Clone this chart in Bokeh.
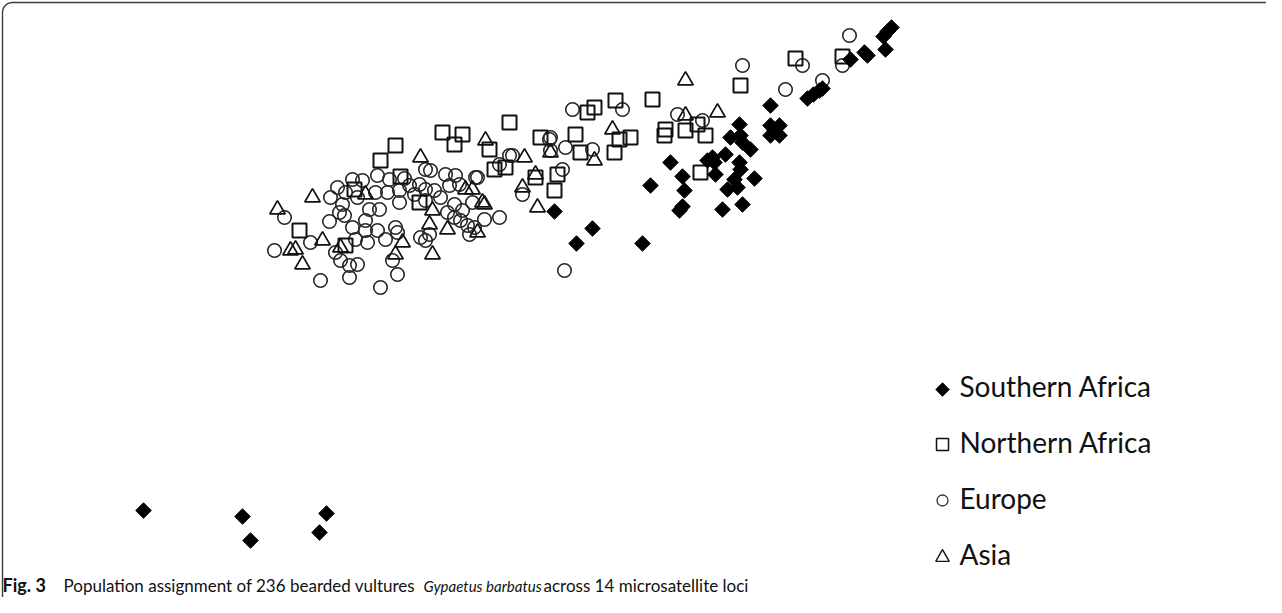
import numpy as np
from bokeh.plotting import figure
from bokeh.models import Range1d
from bokeh.core.properties import value
from bokeh.embed import file_html
from bokeh.resources import INLINE

# ---- data (coordinates) ----
sa_x = [151, 250, 258, 334, 327, 562, 584, 600, 650, 658, 678, 690, 692, 690, 687,
        715, 720, 722, 733, 723, 730, 750, 735, 745, 742, 762, 747, 748, 747, 738,
        748, 750, 758, 778, 778, 787, 778, 787, 782, 815, 821, 827, 830, 858, 872,
        875, 893, 891, 895, 899]
sa_y = [518, 524, 548, 521, 540, 219, 251, 236, 251, 193, 170, 184, 198, 214, 218,
        168, 165, 170, 162, 182, 217, 212, 197, 195, 187, 186, 170, 177, 132, 145,
        143, 150, 157, 113, 133, 133, 143, 143, 138, 106, 102, 98, 96, 67, 60,
        63, 57, 44, 39, 35]

na_x = [307, 353, 362, 388, 403, 408, 427, 450, 470, 462, 497, 502, 513, 517, 543,
        548, 565, 562, 583, 588, 595, 602, 623, 622, 627, 638, 660, 673, 672, 693,
        705, 713, 708, 748, 803, 850]
na_y = [238, 253, 197, 168, 153, 184, 210, 140, 142, 152, 157, 177, 175, 130, 185,
        145, 182, 198, 142, 160, 120, 115, 108, 160, 147, 145, 107, 137, 143, 138,
        132, 143, 180, 93, 66, 64]

eu_x = [292, 282, 328, 318, 338, 337, 347, 352, 350, 360, 370, 385, 397, 383, 377,
        387, 373, 360, 363, 375, 385, 373, 343, 348, 357, 365, 357, 388, 405, 400,
        403, 405, 393, 407, 407, 417, 422, 427, 433, 438, 442, 433, 428, 433, 453,
        463, 457, 467, 483, 470, 455, 462, 468, 475, 482, 492, 507, 477, 462, 480,
        507, 517, 433, 530, 557, 580, 630, 558, 558, 573, 600, 520, 485, 570, 572,
        685, 710, 750, 793, 857, 810, 830, 850, 345, 353, 365, 395, 412, 448, 437]
eu_y = [225, 258, 288, 250, 205, 229, 220, 223, 212, 187, 188, 183, 187, 200, 217,
        217, 228, 235, 247, 250, 238, 238, 260, 268, 273, 272, 285, 295, 282, 268,
        235, 240, 247, 210, 198, 193, 202, 192, 197, 178, 198, 208, 245, 248, 182,
        183, 193, 192, 185, 218, 220, 225, 228, 233, 235, 227, 225, 242, 212, 210,
        172, 163, 177, 202, 147, 117, 117, 145, 158, 155, 157, 163, 185, 177, 278,
        122, 128, 73, 97, 43, 73, 88, 73, 195, 200, 205, 200, 186, 205, 242]

as_x = [285, 320, 428, 303, 310, 330, 348, 403, 410, 440, 437, 440, 455, 485, 490,
        480, 493, 532, 543, 530, 545, 473, 373, 602, 620, 558, 693, 725, 693, 492, 298]
as_y = [217, 205, 165, 257, 272, 248, 255, 262, 250, 218, 232, 262, 237, 240, 210,
        197, 148, 165, 182, 195, 215, 197, 202, 168, 137, 160, 88, 120, 123, 212, 258]

legend_labels = ["Southern Africa", "Northern Africa", "Europe", "Asia"]
caption_parts = ["Fig. 3", "Population assignment of 236 bearded vultures",
                 "Gypaetus barbatus", "across 14 microsatellite loci"]

# ---- figure ----
W, H = 1266, 597
p = figure(width=W, height=H, x_range=Range1d(8, 8 + W), y_range=Range1d(8 + H, 8),
           output_backend="svg", toolbar_location=None, min_border=0,
           x_axis_location=None, y_axis_location=None, outline_line_color=None,
           background_fill_color="white", border_fill_color="white")
p.xgrid.visible = False
p.ygrid.visible = False

# rounded frame (top and left edges)
r = 10
t = np.linspace(np.pi, 1.5 * np.pi, 24)
fx = np.concatenate([[10], 10 + r + r * np.cos(t), [1290]])
fy = np.concatenate([[620], 10 + r + r * np.sin(t), [10]])
p.line(fx, fy, line_color="#3a3a3a", line_width=1.4)

# points
p.scatter(eu_x, eu_y, marker="circle", size=13.5, fill_color=None,
          line_color="#262626", line_width=1.6)
p.scatter(as_x, as_y, marker="triangle", size=15.5, fill_color=None,
          line_color="#111111", line_width=1.7)
p.scatter(na_x, na_y, marker="square", size=14, fill_color=None,
          line_color="#111111", line_width=2.0)
p.scatter(sa_x, sa_y, marker="square", angle=np.pi / 4, size=11,
          fill_color="black", line_color="black", line_width=1)

# legend (manual)
lx, ltx = 950, 967
ly = [397, 452, 508, 565]
lfs = 28
lb = [v - 0.42 * lfs for v in [405, 461, 517, 573]]   # baseline compensation
p.scatter([lx], [ly[0]], marker="square", angle=np.pi / 4, size=9.5,
          fill_color="black", line_color="black", line_width=1)
p.scatter([lx], [ly[1]], marker="square", size=12, fill_color=None,
          line_color="#111111", line_width=1.5)
p.scatter([lx], [ly[2]], marker="circle", size=11, fill_color=None,
          line_color="#333333", line_width=1.3)
p.scatter([lx], [ly[3]], marker="triangle", size=13.5, fill_color=None,
          line_color="#111111", line_width=1.4)
p.text(x=[ltx] * 4, y=lb, text=legend_labels, text_font=value("Lato"),
       text_font_size=f"{lfs}px", text_color="#111111", text_baseline="alphabetic")

# caption
base = 600
p.text(x=[10], y=[base - 0.42 * 18], text=[caption_parts[0]], text_font=value("Lato"),
       text_font_style="bold", text_font_size="18px", text_color="#111111",
       text_baseline="alphabetic")
p.text(x=[71], y=[base - 0.42 * 17], text=[caption_parts[1]], text_font=value("Lato"),
       text_font_size="17px", text_color="#111111", text_baseline="alphabetic")
p.text(x=[431], y=[base - 0.42 * 15], text=[caption_parts[2]], text_font=value("Lato"),
       text_font_style="italic", text_font_size="15px", text_color="#111111",
       text_baseline="alphabetic")
p.text(x=[551], y=[base - 0.42 * 17], text=[caption_parts[3]], text_font=value("Lato"),
       text_font_size="17px", text_color="#111111", text_baseline="alphabetic")

open("out.html", "w").write(file_html(p, INLINE))
